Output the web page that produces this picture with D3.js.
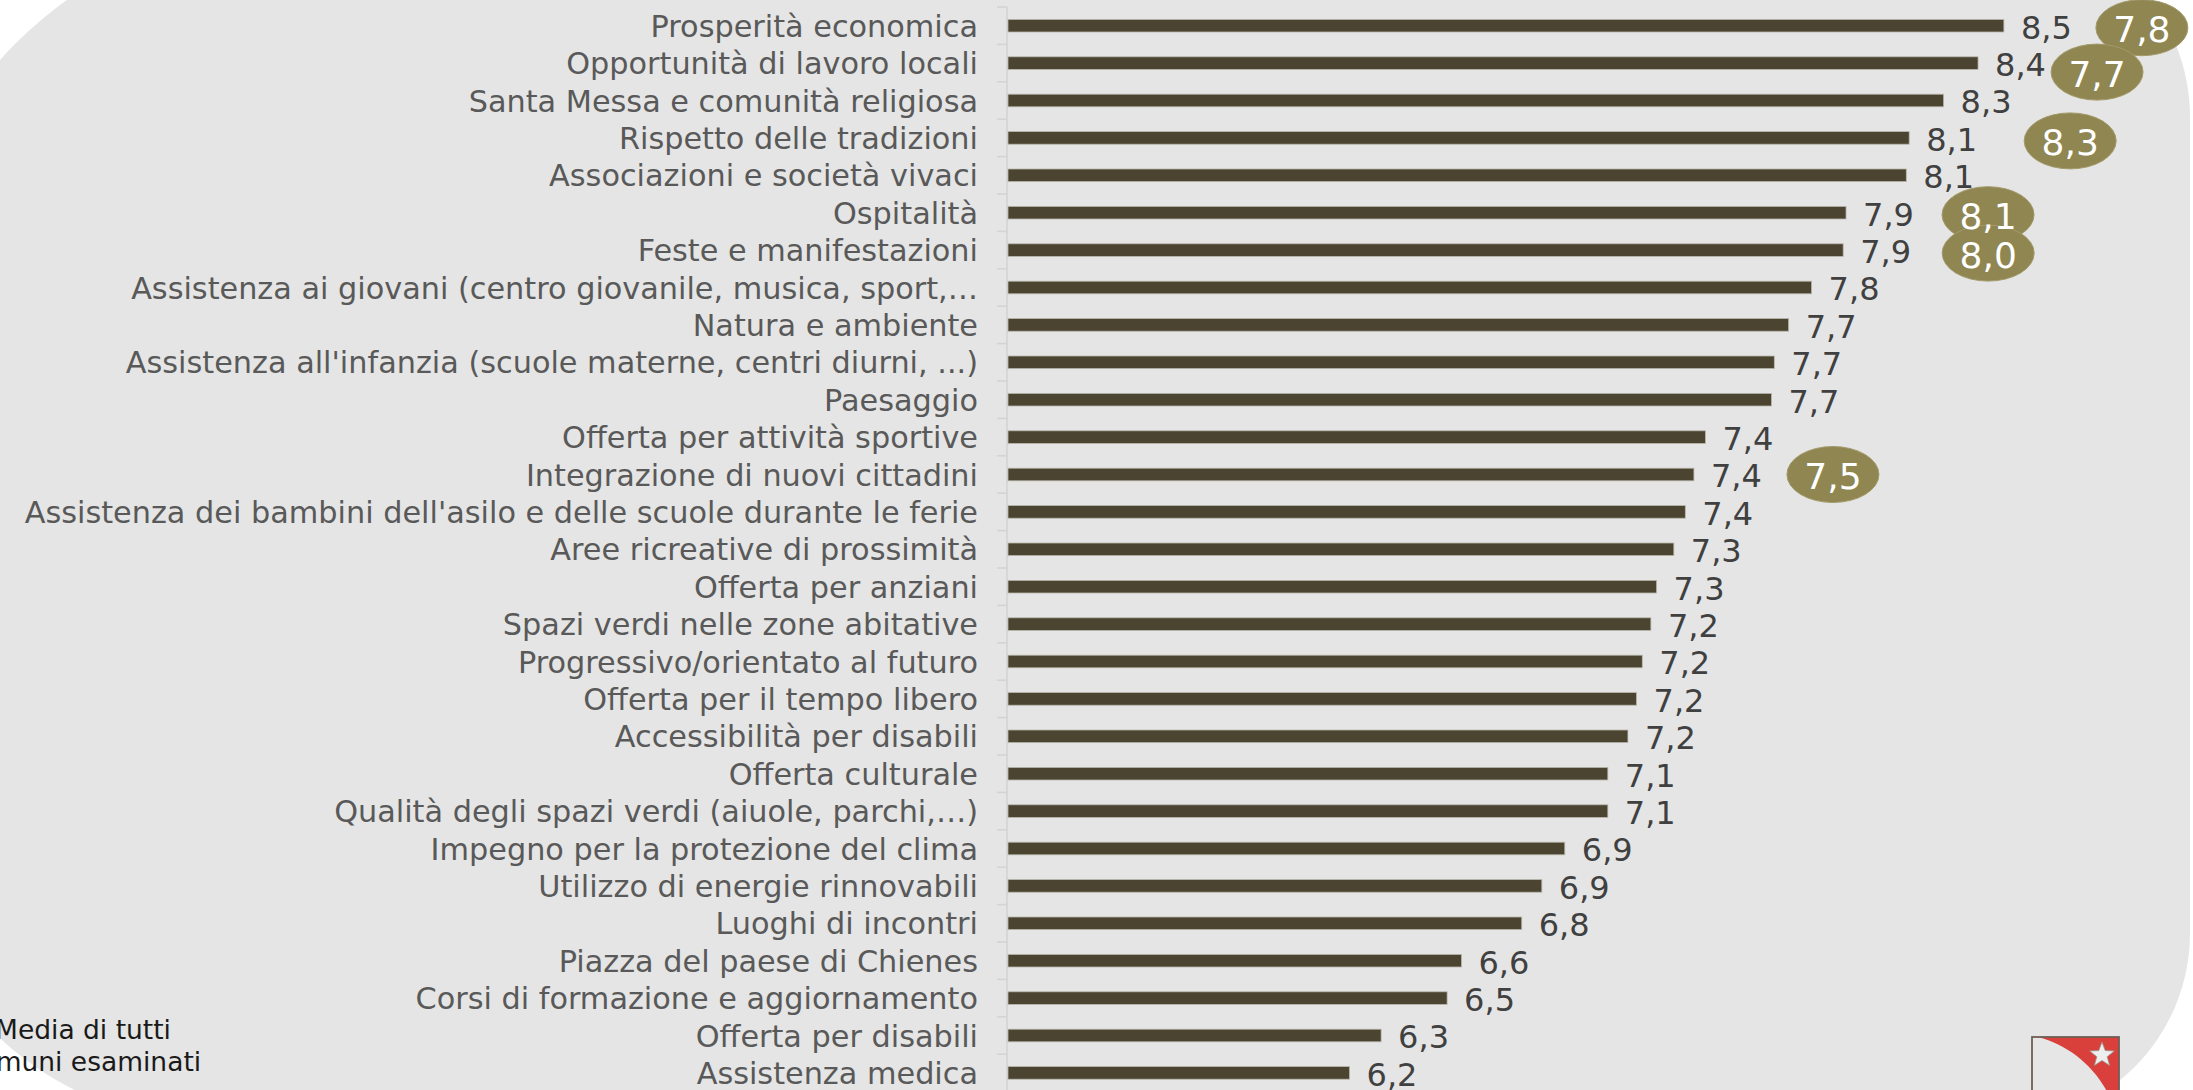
<!DOCTYPE html>
<html>
<head>
<meta charset="utf-8">
<script src="https://cdn.jsdelivr.net/npm/d3@7"></script>
<style>
  html, body { margin: 0; padding: 0; background: #ffffff; }
  svg { display: block; }
</style>
</head>
<body>
<svg id="chart" width="2193" height="1090"></svg>
<script>
// ---------- data ----------
const categories = [
  "Prosperità economica",
  "Opportunità di lavoro locali",
  "Santa Messa e comunità religiosa",
  "Rispetto delle tradizioni",
  "Associazioni e società vivaci",
  "Ospitalità",
  "Feste e manifestazioni",
  "Assistenza ai giovani (centro giovanile, musica, sport,…",
  "Natura e ambiente",
  "Assistenza all'infanzia (scuole materne, centri diurni, ...)",
  "Paesaggio",
  "Offerta per attività sportive",
  "Integrazione di nuovi cittadini",
  "Assistenza dei bambini dell'asilo e delle scuole durante le ferie",
  "Aree ricreative di prossimità",
  "Offerta per anziani",
  "Spazi verdi nelle zone abitative",
  "Progressivo/orientato al futuro",
  "Offerta per il tempo libero",
  "Accessibilità per disabili",
  "Offerta culturale",
  "Qualità degli spazi verdi (aiuole, parchi,…)",
  "Impegno per la protezione del clima",
  "Utilizzo di energie rinnovabili",
  "Luoghi di incontri",
  "Piazza del paese di Chienes",
  "Corsi di formazione e aggiornamento",
  "Offerta per disabili",
  "Assistenza medica"
];
const values = [
  8.47, 8.38, 8.26, 8.14, 8.13, 7.92, 7.91, 7.80, 7.72, 7.67,
  7.66, 7.43, 7.39, 7.36, 7.32, 7.26, 7.24, 7.21, 7.19, 7.16,
  7.09, 7.09, 6.94, 6.86, 6.79, 6.58, 6.53, 6.30, 6.19
];
// comparison values (average of all examined municipalities)
const bubbleCategories = [
  "Prosperità economica",
  "Opportunità di lavoro locali",
  "Rispetto delle tradizioni",
  "Ospitalità",
  "Feste e manifestazioni",
  "Integrazione di nuovi cittadini"
];
const bubbleValues = [7.8, 7.7, 8.3, 8.1, 8.0, 7.5];
const xDomain = [5, 9];
const noteLines = ["Media di tutti", "comuni esaminati"];

// ---------- layout (not data) ----------
const W = 2193, H = 1090;
const plotLeft = 1008, plotRight = 2156;
const rowTop = 7, rowStep = 37.4;
const barH = 12.6;
const bubbleGap = 140;                       // default distance from bar end
const bubbleNudgeX = [-2, -21, 21, 2, 5, -1]; // manual placement tweaks
const bubbleNudgeY = [2, 9, 3, 2, 3, 0];

const svg = d3.select("#chart");
const fmt = v => d3.format(".1f")(v).replace(".", ",");

// ---------- background panel ----------
const bx0 = -100, by0 = -73, bx1 = 2190, by1 = 1123;
const rTL = 396, rTR = 190, rBR = 190, rBL = 315;
const bg = d3.path();
bg.moveTo(bx0 + rTL, by0);
bg.lineTo(bx1 - rTR, by0);
bg.arcTo(bx1, by0, bx1, by0 + rTR, rTR);
bg.lineTo(bx1, by1 - rBR);
bg.arcTo(bx1, by1, bx1 - rBR, by1, rBR);
bg.lineTo(bx0 + rBL, by1);
bg.arcTo(bx0, by1, bx0, by1 - rBL, rBL);
bg.lineTo(bx0, by0 + rTL);
bg.arcTo(bx0, by0, bx0 + rTL, by0, rTL);
bg.closePath();
svg.append("path").attr("d", bg.toString()).attr("fill", "#e4e5e4");

// ---------- scales ----------
const x = d3.scaleLinear().domain(xDomain).range([plotLeft, plotRight]);
const y = d3.scaleBand().domain(categories)
  .range([rowTop, rowTop + rowStep * categories.length])
  .paddingInner(0).paddingOuter(0);
const step = y.step();

// ---------- axis (category axis with boundary ticks) ----------
const axisG = svg.append("g");
axisG.append("line")
  .attr("x1", plotLeft - 1).attr("x2", plotLeft - 1)
  .attr("y1", y.range()[0]).attr("y2", y.range()[1])
  .attr("stroke", "#d2d3d2").attr("stroke-width", 1.5);
const boundaries = categories.map(c => y(c)).concat([y.range()[1]]);
axisG.selectAll("line.tick").data(boundaries).join("line")
  .attr("class", "tick")
  .attr("x1", plotLeft - 11).attr("x2", plotLeft - 1)
  .attr("y1", d => d).attr("y2", d => d)
  .attr("stroke", "#d2d3d2").attr("stroke-width", 1.5);

// ---------- category labels ----------
svg.append("g").selectAll("text").data(categories).join("text")
  .attr("x", plotLeft - 30)
  .attr("y", d => y(d) + step / 2 + 11)
  .attr("text-anchor", "end")
  .attr("font-family", "'DejaVu Sans', Verdana, sans-serif")
  .attr("font-size", 30.3)
  .attr("fill", "#595959")
  .text(d => d);

// ---------- bars ----------
const rows = categories.map((c, i) => ({ c, v: values[i] }));
svg.append("g").selectAll("rect").data(rows).join("rect")
  .attr("x", x(xDomain[0]))
  .attr("y", d => y(d.c) + step / 2 - barH / 2)
  .attr("width", d => x(d.v) - x(xDomain[0]))
  .attr("height", barH)
  .attr("fill", "#4a4430")
  .attr("stroke", "#b9b7ac")
  .attr("stroke-width", 0.8);

// ---------- value labels ----------
svg.append("g").selectAll("text").data(rows).join("text")
  .attr("x", d => x(d.v) + 17)
  .attr("y", d => y(d.c) + step / 2 + 12.8)
  .attr("font-family", "'DejaVu Sans', Verdana, sans-serif")
  .attr("font-size", 32)
  .attr("fill", "#404040")
  .text(d => fmt(d.v));

// ---------- comparison bubbles ----------
const valueOf = c => values[categories.indexOf(c)];
const bubbles = bubbleCategories.map((c, i) => ({
  c, v: bubbleValues[i],
  cx: x(valueOf(c)) + bubbleGap + bubbleNudgeX[i],
  cy: y(c) + step / 2 + bubbleNudgeY[i]
}));
const bubbleG = svg.append("g");
bubbleG.selectAll("ellipse").data(bubbles).join("ellipse")
  .attr("cx", d => d.cx).attr("cy", d => d.cy)
  .attr("rx", 46).attr("ry", 28)
  .attr("fill", "#8f8652")
  .attr("stroke", "#a39a6a").attr("stroke-width", 1);
bubbleG.selectAll("text").data(bubbles).join("text")
  .attr("x", d => d.cx)
  .attr("y", d => d.cy + 14.5)
  .attr("text-anchor", "middle")
  .attr("font-family", "'DejaVu Sans', Verdana, sans-serif")
  .attr("font-size", 36)
  .attr("fill", "#ffffff")
  .text(d => fmt(d.v));

// ---------- note ----------
svg.append("g").selectAll("text").data(noteLines).join("text")
  .attr("x", 83)
  .attr("y", (d, i) => 1039 + i * 32)
  .attr("text-anchor", "middle")
  .attr("font-family", "'DejaVu Sans', Verdana, sans-serif")
  .attr("font-size", 26.5)
  .attr("fill", "#1a1a1a")
  .text(d => d);

// ---------- coat of arms ----------
const logo = svg.append("g").attr("transform", "translate(2032,1037)");
logo.append("rect").attr("width", 87).attr("height", 87).attr("fill", "#d9403c");
logo.append("path")
  .attr("d", "M0,0 L6,0 C36,8 62,28 78,60 L87,87 L0,87 Z")
  .attr("fill", "#e6e6e6");
const star = d3.range(10).map(k => {
  const r = k % 2 === 0 ? 13 : 5.5;
  const a = -Math.PI / 2 + k * Math.PI / 5;
  return [70 + r * Math.cos(a), 18 + r * Math.sin(a)];
});
logo.append("path")
  .attr("d", d3.line()(star) + "Z")
  .attr("fill", "#eeeeee").attr("stroke", "#9a8f85").attr("stroke-width", 0.8);
logo.append("rect").attr("width", 87).attr("height", 87)
  .attr("fill", "none").attr("stroke", "#6e5f55").attr("stroke-width", 1.8);
</script>
</body>
</html>
